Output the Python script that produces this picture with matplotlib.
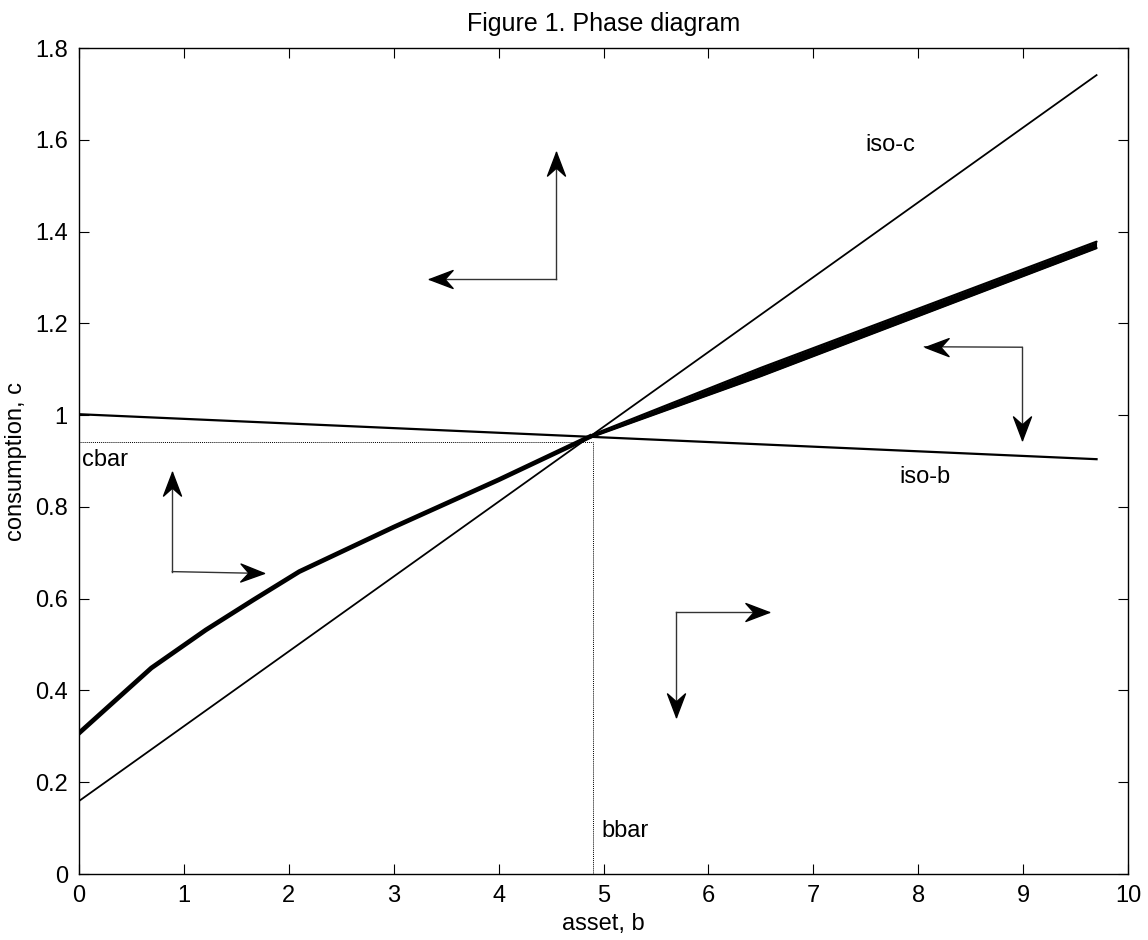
import numpy as np
import matplotlib
matplotlib.use("Agg")
from matplotlib import pyplot as plt
from matplotlib.path import Path
from matplotlib.markers import MarkerStyle
from matplotlib.transforms import Affine2D

plt.rcParams['font.family'] = ['Liberation Sans', 'DejaVu Sans']

# iso-b 与 iso-c 两条直线
iso_b_b = [0, 9.7]
iso_b_c = [1.002, 0.904]
iso_c_b = [0, 9.7]
iso_c_c = [0.159, 1.741]

# 鞍点路径（左半段）
saddle_b = [0, 0.69, 1.21, 1.66, 2.10, 3.0, 4.0, 4.87]
saddle_c = [0.307, 0.449, 0.532, 0.597, 0.659, 0.756, 0.859, 0.953]

# 鞍点路径（右半段，逐渐变粗）
saddle_r_b = [4.87, 6.5, 9.7]
saddle_r_hi = [0.955, 1.103, 1.378]
saddle_r_lo = [0.951, 1.085, 1.364]

# 稳态
bbar = 4.90
cbar = 0.942

# 方向箭头：拐角、竖直箭头终点、水平箭头终点
arrow_b = [4.55, 8.99, 0.89, 5.69]
arrow_c = [1.297, 1.148, 0.659, 0.570]
arrow_up_c = [1.573, 0.946, 0.877, 0.343]
arrow_side_b = [3.34, 8.06, 1.76, 6.58]
arrow_side_c = [1.297, 1.149, 0.655, 0.570]

fig = plt.figure(figsize=(11.48, 9.40), dpi=100)
ax = fig.add_axes([0.0688, 0.0702, 0.9138, 0.8787])
ax.set_xlim(0, 10)
ax.set_ylim(0, 1.8)

ax.plot(iso_b_b, iso_b_c, color="black", lw=1.6)
ax.plot(iso_c_b, iso_c_c, color="black", lw=1.3)
ax.plot(saddle_b, saddle_c, color="black", lw=3.4, solid_joinstyle="miter")
ax.fill_between(saddle_r_b, saddle_r_lo, saddle_r_hi, color="black", lw=0)
ax.plot(saddle_r_b, saddle_r_hi, color="black", lw=1.6, solid_capstyle="round")
ax.plot(saddle_r_b, saddle_r_lo, color="black", lw=1.6, solid_capstyle="round")

ax.plot([0, bbar], [cbar, cbar], color="black", lw=0.7, ls=(0, (1, 1)))
ax.plot([bbar, bbar], [0, cbar], color="black", lw=0.7, ls=(0, (1, 1)))

# 箭头头部（凹形）
head = Path([(0, 0), (-1, 0.38), (-0.66, 0), (-1, -0.38), (0, 0)],
            [Path.MOVETO, Path.LINETO, Path.LINETO, Path.LINETO, Path.CLOSEPOLY])


def draw_arrow(b0, c0, b1, c1):
    ax.plot([b0, b1], [c0, c1], color="#333333", lw=1.0)
    p0 = ax.transData.transform((b0, c0))
    p1 = ax.transData.transform((b1, c1))
    ang = np.degrees(np.arctan2(p1[1] - p0[1], p1[0] - p0[0]))
    m = MarkerStyle(head, transform=Affine2D().rotate_deg(ang))
    ax.plot([b1], [c1], marker=m, markersize=34, color="black", lw=0)


for i in range(len(arrow_b)):
    draw_arrow(arrow_b[i], arrow_c[i], arrow_b[i], arrow_up_c[i])
    draw_arrow(arrow_b[i], arrow_c[i], arrow_side_b[i], arrow_side_c[i])

fs = 17
ax.text(7.50, 1.589, "iso-c", fontsize=fs, va="center", ha="left")
ax.text(7.82, 0.865, "iso-b", fontsize=fs, va="center", ha="left")
ax.text(0.03, 0.926, "cbar", fontsize=fs, va="top", ha="left")
ax.text(4.98, 0.07, "bbar", fontsize=fs, va="bottom", ha="left")

ax.set_title("Figure 1. Phase diagram", fontsize=18, pad=12)
ax.set_xlabel("asset, b", fontsize=fs, labelpad=4)
ax.set_ylabel("consumption, c", fontsize=fs, labelpad=6)
ax.set_xticks(range(0, 11))
ax.set_yticks(np.arange(0, 1.81, 0.2))
ax.set_yticklabels(["0", "0.2", "0.4", "0.6", "0.8", "1", "1.2", "1.4", "1.6", "1.8"])
ax.tick_params(direction="in", length=7, width=0.8, top=True, right=True,
               labelsize=fs, pad=8)
for s in ax.spines.values():
    s.set_linewidth(1.0)

fig.savefig("out.png", dpi=100)
